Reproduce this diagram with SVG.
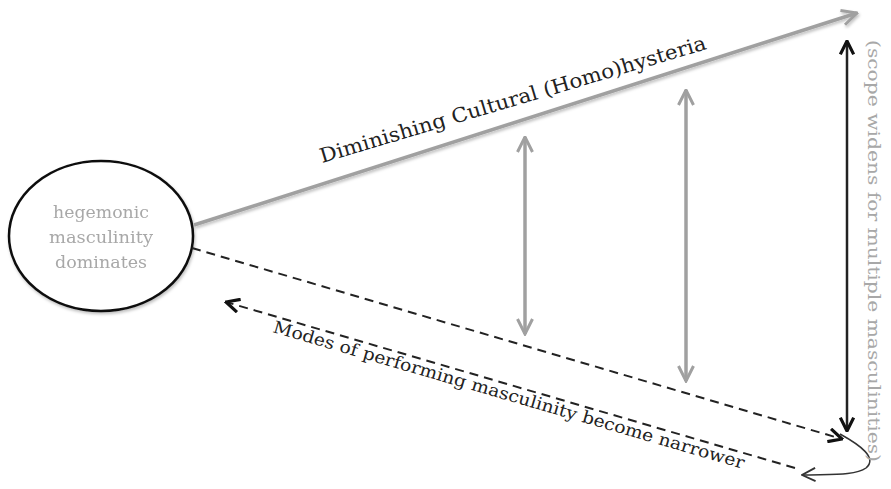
<svg xmlns="http://www.w3.org/2000/svg" width="891" height="489" viewBox="0 0 891 489">
<defs>
<filter id="sh" x="-10%" y="-10%" width="120%" height="130%"><feDropShadow dx="1" dy="2" stdDeviation="1.5" flood-color="#000" flood-opacity="0.25"/></filter>
<marker id="ag" viewBox="0 0 12 12" refX="11" refY="6" markerWidth="18" markerHeight="18" markerUnits="userSpaceOnUse" orient="auto-start-reverse"><path d="M1,1 L11,6 L1,11" fill="none" stroke="#a0a0a0" stroke-width="2" stroke-linejoin="miter"/></marker>
<marker id="ak" viewBox="0 0 12 12" refX="11" refY="6" markerWidth="16" markerHeight="16" markerUnits="userSpaceOnUse" orient="auto-start-reverse"><path d="M1,1 L11,6 L1,11" fill="none" stroke="#111" stroke-width="2.4"/></marker>
<marker id="at" viewBox="0 0 12 12" refX="11" refY="6" markerWidth="16" markerHeight="16" markerUnits="userSpaceOnUse" orient="auto"><path d="M1,1 L11,6 L1,11" fill="none" stroke="#333" stroke-width="1.4"/></marker>
</defs>
<style>
.gray{stroke:#a0a0a0;stroke-width:3.5;fill:none}
.dash{stroke:#222;stroke-width:2;stroke-dasharray:9 6;fill:none}
</style>
<rect width="891" height="489" fill="#fff"/>
<g id="node-hegemonic" filter="url(#sh)">
<ellipse cx="101" cy="236" rx="92" ry="75" fill="#fff" stroke="#111" stroke-width="2.5"/>
<text font-family="'DejaVu Serif', 'Times New Roman', serif" x="101" y="218" font-size="17" fill="#a8a8a8" text-anchor="middle" textLength="96" lengthAdjust="spacingAndGlyphs">hegemonic</text>
<text font-family="'DejaVu Serif', 'Times New Roman', serif" x="101" y="243" font-size="17" fill="#a8a8a8" text-anchor="middle" textLength="104" lengthAdjust="spacingAndGlyphs">masculinity</text>
<text font-family="'DejaVu Serif', 'Times New Roman', serif" x="101" y="268" font-size="17" fill="#a8a8a8" text-anchor="middle" textLength="92" lengthAdjust="spacingAndGlyphs">dominates</text>
</g>
<g id="connectors">
<line class="gray" x1="194" y1="225" x2="857" y2="13" marker-end="url(#ag)" filter="url(#sh)"/>
<line class="dash" x1="192" y1="248" x2="842" y2="439" marker-end="url(#ak)"/>
<line class="dash" x1="795" y1="468" x2="226" y2="302" marker-end="url(#ak)"/>
<line class="gray" x1="525" y1="137" x2="525" y2="334" marker-start="url(#ag)" marker-end="url(#ag)" stroke-width="4"/>
<line class="gray" x1="686" y1="90" x2="686" y2="381" marker-start="url(#ag)" marker-end="url(#ag)" stroke-width="4"/>
<line x1="847" y1="41" x2="847" y2="431" stroke="#222" stroke-width="2.5" marker-start="url(#ak)" marker-end="url(#ak)"/>
<path d="M840,434 C860,445 878,458 866,468 C855,476 830,474 802,475" fill="none" stroke="#333" stroke-width="1.5" marker-end="url(#at)"/>
</g>
<g id="labels">
<text font-family="'DejaVu Serif', 'Times New Roman', serif" font-size="20" fill="#222" transform="translate(322,163) rotate(-16.5)" textLength="402" lengthAdjust="spacingAndGlyphs">Diminishing Cultural (Homo)hysteria</text>
<text font-family="'DejaVu Serif', 'Times New Roman', serif" font-size="17" fill="#222" transform="translate(272,332) rotate(16.2)" textLength="490" lengthAdjust="spacingAndGlyphs">Modes of performing masculinity become narrower</text>
<text font-family="'DejaVu Serif', 'Times New Roman', serif" font-size="16" fill="#a8a8a8" transform="translate(868,40) rotate(90)" textLength="422" lengthAdjust="spacingAndGlyphs">(scope widens for multiple masculinities)</text>
</g>
</svg>
